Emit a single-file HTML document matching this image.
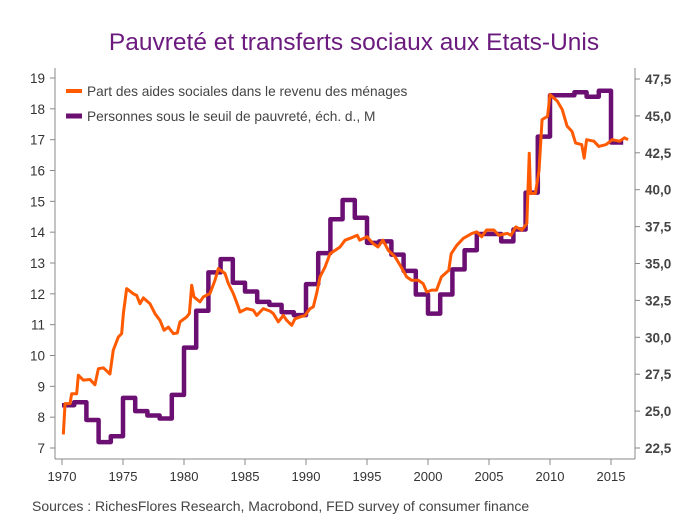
<!DOCTYPE html>
<html><head><meta charset="utf-8">
<style>
html,body{margin:0;padding:0;background:#fff;}
svg{display:block;font-family:"Liberation Sans",sans-serif;}
</style></head>
<body>
<svg id="chart" width="688" height="531" viewBox="0 0 688 531">
<text x="354" y="50" text-anchor="middle" font-size="24.5" fill="#6b1a7e">Pauvreté et transferts sociaux aux Etats-Unis</text>
<g id="axes"></g>
<g id="series"></g>
<g>
 <g>
  <line x1="66" y1="91" x2="82" y2="91" stroke="#ff5a00" stroke-width="4"/>
  <text x="87" y="96" font-size="13.7" fill="#444">Part des aides sociales dans le revenu des ménages</text>
 </g>
 <g>
  <line x1="66" y1="116" x2="82" y2="116" stroke="#6b0f73" stroke-width="5"/>
  <text x="87" y="121" font-size="13.7" fill="#444">Personnes sous le seuil de pauvreté, éch. d., M</text>
 </g>
</g>
<text x="32" y="511" font-size="14" fill="#444">Sources : RichesFlores Research, Macrobond, FED survey of consumer finance</text>
</svg>
<script>
const povertyYears = [1970,1971,1972,1973,1974,1975,1976,1977,1978,1979,1980,1981,1982,1983,1984,1985,1986,1987,1988,1989,1990,1991,1992,1993,1994,1995,1996,1997,1998,1999,2000,2001,2002,2003,2004,2005,2006,2007,2008,2009,2010,2011,2012,2013,2014,2015];
const povertyValues = [25.4,25.6,24.4,22.9,23.3,25.9,25.0,24.7,24.5,26.1,29.3,31.8,34.4,35.3,33.7,33.1,32.4,32.2,31.7,31.5,33.6,35.7,38.0,39.3,38.1,36.4,36.5,35.6,34.5,32.9,31.6,32.9,34.6,35.9,37.0,37.0,36.5,37.3,39.8,43.6,46.4,46.4,46.6,46.3,46.7,43.2];
const aidesYears = [1970.11,1970.25,1970.66,1970.79,1971.2,1971.34,1971.75,1972.3,1972.7,1972.98,1973.39,1973.93,1974.2,1974.62,1974.89,1975.03,1975.3,1975.85,1976.12,1976.39,1976.67,1977.21,1977.62,1978.03,1978.36,1978.72,1979.13,1979.45,1979.67,1980.22,1980.44,1980.63,1980.82,1981.31,1981.58,1982.13,1982.54,1982.81,1983.36,1983.63,1984.04,1984.45,1984.59,1985.14,1985.68,1985.96,1986.5,1987.05,1987.32,1987.73,1988.14,1988.42,1988.83,1989.1,1989.51,1989.92,1990.33,1990.6,1990.87,1991.15,1991.56,1991.97,1992.79,1993.2,1993.6,1994.2,1994.4,1995.0,1995.5,1995.9,1996.3,1996.75,1997.3,1997.8,1998.25,1998.65,1999.2,1999.6,1999.9,2000.3,2000.7,2001.1,2001.7,2001.9,2002.35,2002.9,2003.6,2004.0,2004.4,2004.8,2005.4,2005.8,2006.5,2006.8,2007.2,2007.7,2008.1,2008.3,2008.4,2008.8,2009.1,2009.35,2009.8,2010.0,2010.6,2011.0,2011.4,2011.8,2012.1,2012.6,2012.8,2013.0,2013.6,2014.0,2014.6,2015.1,2015.7,2016.1,2016.4];
const aidesValues = [7.44,8.44,8.44,8.76,8.76,9.36,9.2,9.22,9.05,9.57,9.6,9.4,10.17,10.6,10.71,11.36,12.17,12.0,11.95,11.68,11.87,11.68,11.36,11.14,10.82,10.92,10.71,10.73,11.09,11.25,11.36,12.28,11.9,11.74,11.9,12.01,12.44,12.82,12.66,12.34,12.01,11.58,11.41,11.52,11.47,11.3,11.52,11.44,11.36,11.09,11.3,11.14,10.98,11.19,11.25,11.3,11.52,11.58,12.01,12.55,12.87,13.3,13.52,13.74,13.8,13.9,13.74,13.85,13.63,13.52,13.74,13.41,13.2,12.87,12.55,12.44,12.44,12.33,12.06,12.12,12.12,12.55,12.76,13.3,13.57,13.8,13.96,14.01,13.85,14.07,14.07,13.9,13.96,13.9,14.17,14.07,14.28,16.56,15.26,15.26,16.0,17.65,17.76,18.46,18.25,17.98,17.44,17.27,16.89,16.84,16.4,17.0,16.95,16.78,16.84,17.0,16.95,17.06,17.0];
const leftTicks = [7,8,9,10,11,12,13,14,15,16,17,18,19];
const rightTicks = [22.5,25,27.5,30,32.5,35,37.5,40,42.5,45,47.5];
const xTicks = [1970,1975,1980,1985,1990,1995,2000,2005,2010,2015];

const NS = "http://www.w3.org/2000/svg";
const X0 = 55, X1 = 635, YB = 459, YT = 68;
const xScale = yr => 62 + (yr - 1970) * 12.2;
const yLeft = v => 448 - (v - 7) * (370 / 12);
const yRight = v => 448 - (v - 22.5) * (369 / 25);

function mk(tag, attrs, parent) {
  const e = document.createElementNS(NS, tag);
  for (const k in attrs) e.setAttribute(k, attrs[k]);
  parent.appendChild(e);
  return e;
}
const axes = document.getElementById('axes');
const series = document.getElementById('series');

let el = mk('line', {x1:X0,y1:YT,x2:X0,y2:YB,stroke:'#888','stroke-width':1}, axes);


el = mk('line', {x1:X1,y1:YT,x2:X1,y2:YB,stroke:'#888','stroke-width':1}, axes);


el = mk('line', {x1:X0,y1:YB,x2:X1,y2:YB,stroke:'#888','stroke-width':1}, axes);



leftTicks.forEach(v => {
  const y = yLeft(v);
  mk('line', {x1:X0-5,y1:y,x2:X0,y2:y,stroke:'#888'}, axes);
  const t = mk('text', {x:X0-10,y:y+5,'text-anchor':'end','font-size':13.5,fill:'#333'}, axes);
  t.textContent = v;
  
  
});
rightTicks.forEach(v => {
  const y = yRight(v);
  mk('line', {x1:X1,y1:y,x2:X1+5,y2:y,stroke:'#888'}, axes);
  const t = mk('text', {x:X1+10,y:y+5,'font-size':13.5,'font-weight':'bold',fill:'#444'}, axes);
  t.textContent = v.toFixed(1).replace('.', ',');
  
  
});
xTicks.forEach(v => {
  const x = xScale(v);
  mk('line', {x1:x,y1:YB,x2:x,y2:YB+6,stroke:'#888'}, axes);
  const t = mk('text', {x:x,y:YB+22,'text-anchor':'middle','font-size':13,fill:'#333'}, axes);
  t.textContent = v;
  
  
});

let d = '';
povertyYears.forEach((yr, i) => {
  const y = yRight(povertyValues[i]);
  d += (i === 0 ? 'M' : 'L') + xScale(yr) + ',' + y + 'L' + xScale(yr + 1) + ',' + y;
});
const pov = mk('path', {d:d,fill:'none',stroke:'#6b0f73','stroke-width':4.5,'stroke-linejoin':'round'}, series);



d = aidesYears.map((yr, i) => (i ? 'L' : 'M') + xScale(yr) + ',' + yLeft(aidesValues[i])).join('');
const aid = mk('path', {d:d,fill:'none',stroke:'#ff5a00','stroke-width':3,'stroke-linejoin':'round'}, series);


</script>
</body></html>
